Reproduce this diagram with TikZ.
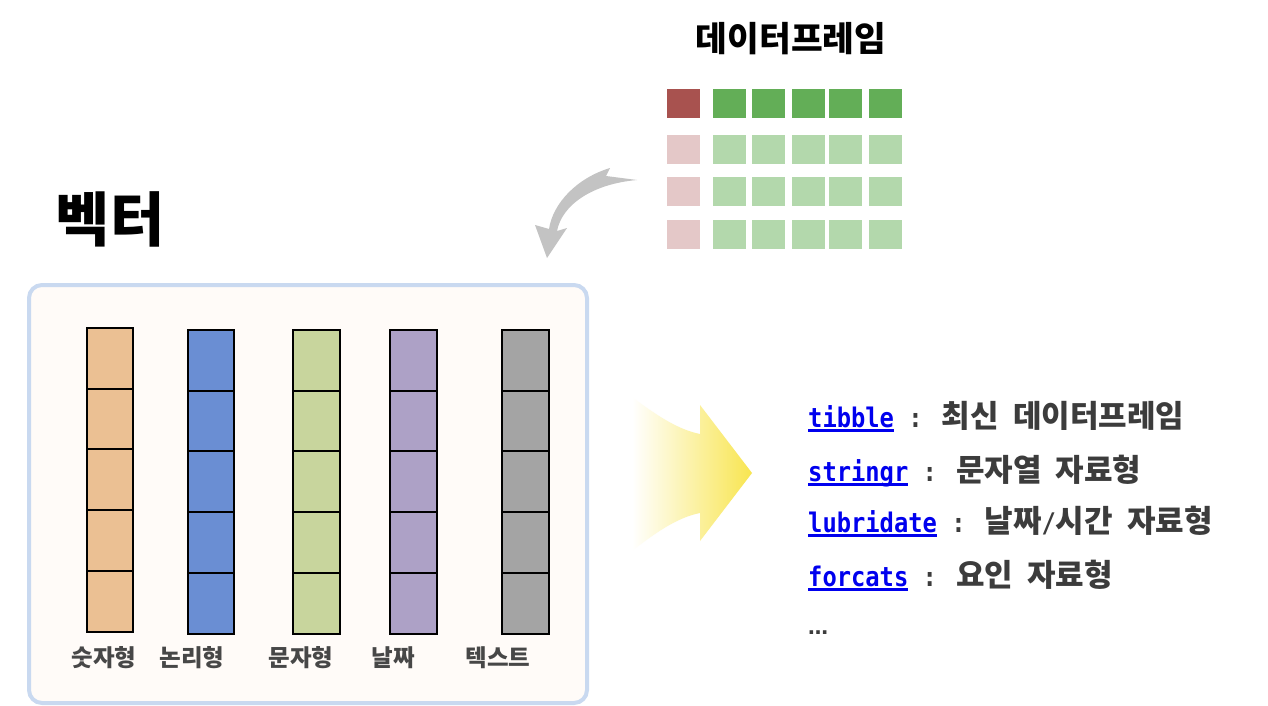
\documentclass[tikz,border=0pt]{standalone}
\usepackage{fontspec}
\setmainfont{DejaVu Sans}
\newfontfamily\kr{Noto Sans CJK KR}
\newfontfamily\mono[FakeStretch=0.88]{DejaVu Sans Mono}
\definecolor{panelfill}{HTML}{FFFBF8}
\definecolor{panelline}{HTML}{C9D9F0}
\definecolor{cOrange}{HTML}{EBC093}
\definecolor{cBlue}{HTML}{6A8ED3}
\definecolor{cGreen}{HTML}{C8D59D}
\definecolor{cPurple}{HTML}{ADA1C6}
\definecolor{cGray}{HTML}{A4A4A4}
\definecolor{dRed}{HTML}{A8524F}
\definecolor{dGreen}{HTML}{63AE57}
\definecolor{lRed}{HTML}{E4C8C8}
\definecolor{lGreen}{HTML}{B3D8AC}
\definecolor{arrowgray}{HTML}{C3C3C3}
\definecolor{arrowyellow}{HTML}{F8E550}
\definecolor{txtgray}{HTML}{3C3C3C}
\definecolor{lblgray}{HTML}{474747}
\definecolor{linkblue}{HTML}{0000EE}
\newcommand\ko[1]{{\kr\bfseries\fontsize{31}{33}\selectfont #1}}
\newcommand\lnk[1]{{\color{linkblue}\setbox0\hbox{#1}\rlap{\rule[-4.5pt]{\wd0}{2.2pt}}\box0}}
\begin{document}
\begin{tikzpicture}[x=1pt,y=-1pt,
  cell/.style={draw=black,line width=2pt,minimum width=46.5pt,inner sep=0pt},
  sq/.style={draw=white,line width=0.6pt,minimum width=34pt,minimum height=30pt,inner sep=0pt},
  lbl/.style={font=\kr\bfseries\fontsize{23.5}{25}\selectfont,text=lblgray,inner sep=0pt},
  item/.style={anchor=base west,inner sep=0pt,text=txtgray,font=\mono\bfseries\fontsize{27}{30}\selectfont}]
\useasboundingbox (0,0) rectangle (1268,706);
\fill[white] (0,0) rectangle (1268,706);

% title
\node[font=\kr\bfseries\fontsize{34.5}{37}\selectfont,text=black,inner sep=0pt] (dftitle) at (791,39) {데이터프레임};

% data frame grid
\foreach \r/\y in {0/103.5,1/149.5,2/191,3/234.5}{
  \ifnum\r=0
    \node[sq,fill=dRed] (g\r-0) at (683.3,\y) {};
    \foreach \c/\x in {1/729,2/768.3,3/808.3,4/845.7,5/885.3}
      \node[sq,fill=dGreen] (g\r-\c) at (\x,\y) {};
  \else
    \node[sq,fill=lRed] (g\r-0) at (683.3,\y) {};
    \foreach \c/\x in {1/729,2/768.3,3/808.3,4/845.7,5/885.3}
      \node[sq,fill=lGreen] (g\r-\c) at (\x,\y) {};
  \fi
}

% vector title
\node[font=\kr\bfseries\fontsize{59}{62}\selectfont,text=black,inner sep=0pt] (vtitle) at (110,219) {벡터};

% curved gray arrow
\coordinate (atail) at (637,180);
\coordinate (ahead) at (547,258);
\fill[arrowgray] (610,168) .. controls (577,178) and (553,203) .. (549,229)
   -- (535,225) -- (ahead) -- (567,228) -- (557,231)
   .. controls (562,205) and (592,184) .. (atail) -- (606,176) -- cycle;

% panel
\node[draw=panelline,fill=panelfill,line width=4pt,rounded corners=13pt,
      minimum width=558pt,minimum height=418pt,inner sep=0pt] (panel) at (308,494) {};

% columns
\foreach \i/\xc/\top/\col in {1/110/328/cOrange,2/211.2/330/cBlue,3/316.3/330/cGreen,4/413.5/330/cPurple,5/525.5/330/cGray}{
  \foreach \j in {0,...,4}
    \node[cell,fill=\col,minimum height=60.7pt] (c\i-\j) at (\xc,\top+30.35+\j*60.7) {};
}
\node[lbl] (l1) at (104,658) {숫자형};
\node[lbl] (l2) at (192,658) {논리형};
\node[lbl] (l3) at (301,658) {문자형};
\node[lbl] (l4) at (393,658) {날짜};
\node[lbl] (l5) at (498,658) {텍스트};

% yellow arrow
\shade[left color=white,right color=arrowyellow]
  (632,397) .. controls (660,418) and (680,430) .. (700,434) -- (700,405) -- (752,473)
  -- (700,541) -- (700,513) .. controls (680,517) and (660,529) .. (632,551) -- cycle;

% package list
\node[item] (t1) at (808,427) {\lnk{tibble} : \ko{최신} \ko{데이터프레임}};
\node[item] (t2) at (808,481) {\lnk{stringr} : \ko{문자열} \ko{자료형}};
\node[item] (t3) at (808,532) {\lnk{lubridate} : \ko{날짜}/\ko{시간} \ko{자료형}};
\node[item] (t4) at (808,586) {\lnk{forcats} : \ko{요인} \ko{자료형}};
\node[anchor=base west,inner sep=0pt,text=txtgray,font=\bfseries\fontsize{20}{22}\selectfont] (t5) at (808,634) {…};
\end{tikzpicture}
\end{document}
